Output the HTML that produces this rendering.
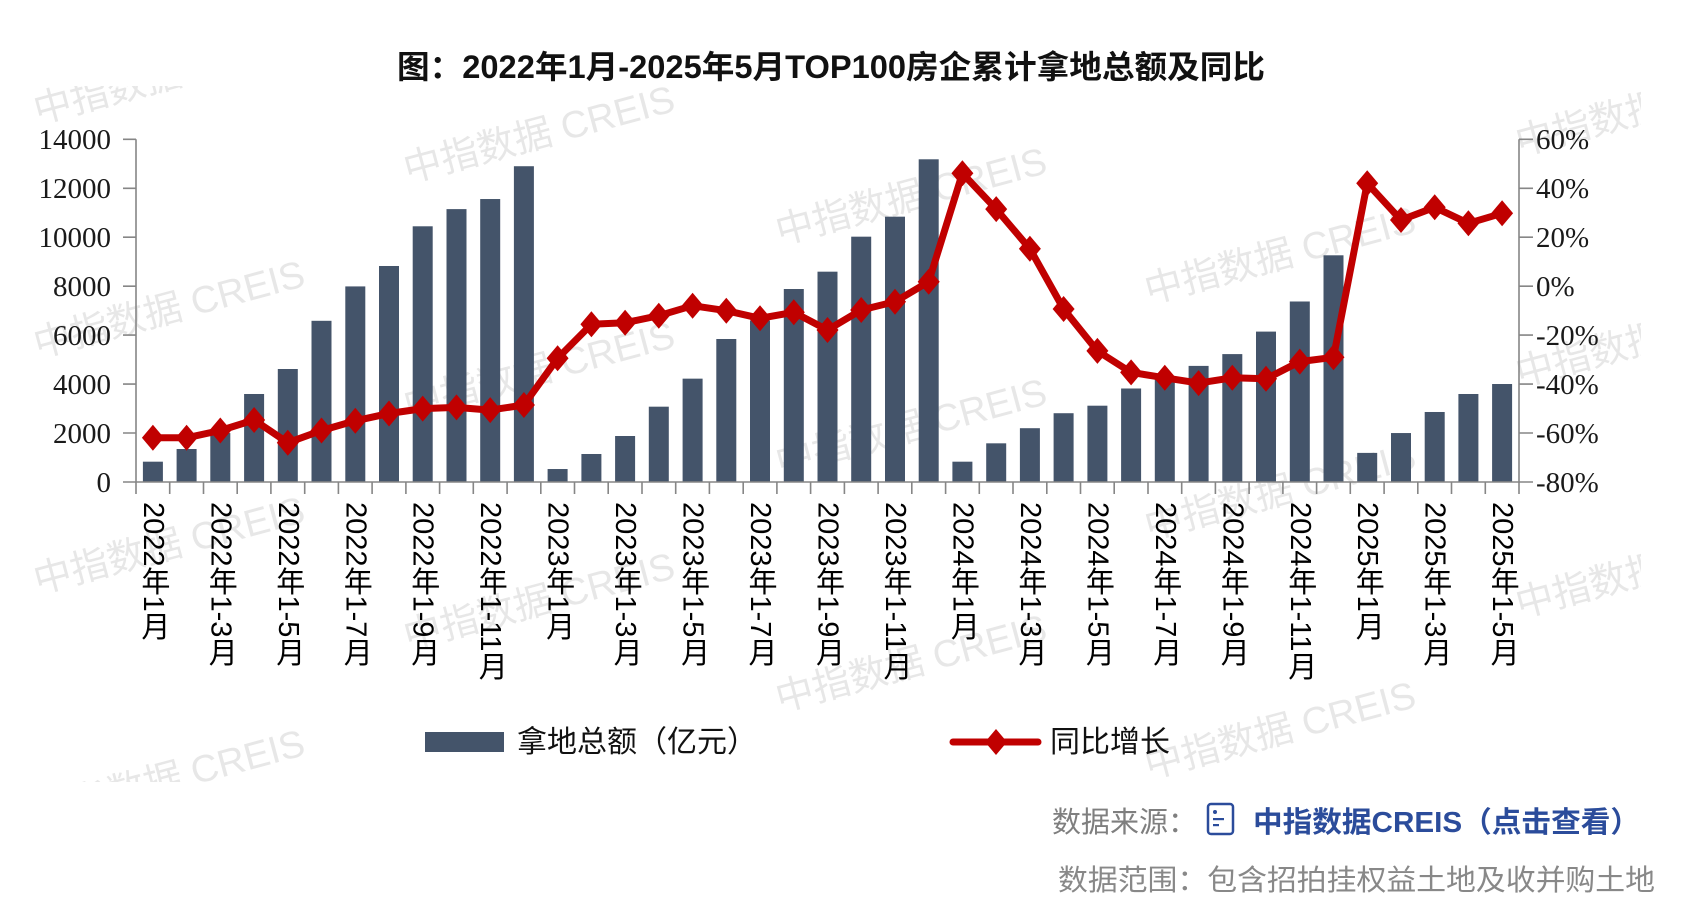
<!DOCTYPE html>
<html>
<head>
<meta charset="utf-8">
<style>
  html,body{margin:0;padding:0;background:#fff;}
  body{width:1684px;height:909px;overflow:hidden;position:relative;}
  svg{position:absolute;left:0;top:0;}
  .xl{position:absolute;top:502px;writing-mode:vertical-rl;text-orientation:mixed;
      font-family:"Liberation Sans","Noto Sans CJK SC",sans-serif;font-size:29px;
      line-height:30px;width:30px;color:#000;white-space:nowrap;}
</style>
</head>
<body>
<svg width="1684" height="909" viewBox="0 0 1684 909" xmlns="http://www.w3.org/2000/svg">
  <defs>
    <clipPath id="wmclip"><rect x="32" y="86" width="1609" height="696"/></clipPath>
    <path id="dm" d="M0,-13 L11,0 L0,13 L-11,0Z" fill="#c00000"/>
  </defs>

  <!-- watermarks -->
  <g clip-path="url(#wmclip)" font-family="'Liberation Sans','Noto Sans CJK SC',sans-serif" font-size="38" fill="#e7e7e7" text-anchor="middle">
    <text x="169" y="88" transform="rotate(-15 169 75)">中指数据 CREIS</text>
    <text x="169" y="322" transform="rotate(-15 169 309)">中指数据 CREIS</text>
    <text x="169" y="558" transform="rotate(-15 169 545)">中指数据 CREIS</text>
    <text x="169" y="791" transform="rotate(-15 169 778)">中指数据 CREIS</text>
    <text x="539" y="147" transform="rotate(-15 539 134)">中指数据 CREIS</text>
    <text x="539" y="383" transform="rotate(-15 539 370)">中指数据 CREIS</text>
    <text x="539" y="614" transform="rotate(-15 539 601)">中指数据 CREIS</text>
    <text x="911" y="209" transform="rotate(-15 911 196)">中指数据 CREIS</text>
    <text x="911" y="440" transform="rotate(-15 911 427)">中指数据 CREIS</text>
    <text x="911" y="676" transform="rotate(-15 911 663)">中指数据 CREIS</text>
    <text x="1280" y="268" transform="rotate(-15 1280 255)">中指数据 CREIS</text>
    <text x="1280" y="504" transform="rotate(-15 1280 491)">中指数据 CREIS</text>
    <text x="1280" y="743" transform="rotate(-15 1280 730)">中指数据 CREIS</text>
    <text x="1651" y="120" transform="rotate(-15 1651 107)">中指数据 CREIS</text>
    <text x="1651" y="351" transform="rotate(-15 1651 338)">中指数据 CREIS</text>
    <text x="1651" y="582" transform="rotate(-15 1651 569)">中指数据 CREIS</text>
  </g>

  <!-- title -->
  <text x="397" y="78" font-family="'Liberation Sans','Noto Sans CJK SC',sans-serif" font-weight="bold" font-size="32" fill="#111" textLength="868" lengthAdjust="spacingAndGlyphs">图：2022年1月-2025年5月TOP100房企累计拿地总额及同比</text>

  <!-- bars -->
  <g transform="translate(0,482) scale(1,-0.024479)" fill="#44546a">
    <rect x="142.9" y="0" width="20" height="830"/>
    <rect x="176.6" y="0" width="20" height="1348"/>
    <rect x="210.3" y="0" width="20" height="2000"/>
    <rect x="244.1" y="0" width="20" height="3595"/>
    <rect x="277.8" y="0" width="20" height="4616"/>
    <rect x="311.5" y="0" width="20" height="6585"/>
    <rect x="345.3" y="0" width="20" height="7990"/>
    <rect x="379.0" y="0" width="20" height="8824"/>
    <rect x="412.7" y="0" width="20" height="10446"/>
    <rect x="446.5" y="0" width="20" height="11148"/>
    <rect x="480.2" y="0" width="20" height="11560"/>
    <rect x="513.9" y="0" width="20" height="12900"/>
    <rect x="547.6" y="0" width="20" height="530"/>
    <rect x="581.4" y="0" width="20" height="1144"/>
    <rect x="615.1" y="0" width="20" height="1879"/>
    <rect x="648.8" y="0" width="20" height="3077"/>
    <rect x="682.6" y="0" width="20" height="4222"/>
    <rect x="716.3" y="0" width="20" height="5842"/>
    <rect x="750.0" y="0" width="20" height="6600"/>
    <rect x="783.8" y="0" width="20" height="7884"/>
    <rect x="817.5" y="0" width="20" height="8592"/>
    <rect x="851.2" y="0" width="20" height="10022"/>
    <rect x="885.0" y="0" width="20" height="10839"/>
    <rect x="918.7" y="0" width="20" height="13183"/>
    <rect x="952.4" y="0" width="20" height="830"/>
    <rect x="986.2" y="0" width="20" height="1580"/>
    <rect x="1019.9" y="0" width="20" height="2198"/>
    <rect x="1053.6" y="0" width="20" height="2810"/>
    <rect x="1087.4" y="0" width="20" height="3117"/>
    <rect x="1121.1" y="0" width="20" height="3820"/>
    <rect x="1154.8" y="0" width="20" height="4200"/>
    <rect x="1188.6" y="0" width="20" height="4743"/>
    <rect x="1222.3" y="0" width="20" height="5225"/>
    <rect x="1256.0" y="0" width="20" height="6144"/>
    <rect x="1289.8" y="0" width="20" height="7374"/>
    <rect x="1323.5" y="0" width="20" height="9261"/>
    <rect x="1357.2" y="0" width="20" height="1189"/>
    <rect x="1391.0" y="0" width="20" height="2000"/>
    <rect x="1424.7" y="0" width="20" height="2860"/>
    <rect x="1458.4" y="0" width="20" height="3595"/>
    <rect x="1492.1" y="0" width="20" height="4003"/>
  </g>

  <!-- axes -->
  <g stroke="#868686" stroke-width="1.6" fill="none">
    <path d="M136,139.3V482H1519V139.3"/>
    <path d="M123,482H136M123,433H136M123,384.1H136M123,335.1H136M123,286.2H136M123,237.2H136M123,188.3H136M123,139.3H136"/>
    <path d="M1519,482H1533M1519,433H1533M1519,384.1H1533M1519,335.1H1533M1519,286.2H1533M1519,237.2H1533M1519,188.3H1533M1519,139.3H1533"/>
    <path d="M136,482v12M169.7,482v12M203.5,482v12M237.2,482v12M270.9,482v12M304.7,482v12M338.4,482v12M372.1,482v12M405.9,482v12M439.6,482v12M473.3,482v12M507.1,482v12M540.8,482v12M574.5,482v12M608.2,482v12M642,482v12M675.7,482v12M709.4,482v12M743.2,482v12M776.9,482v12M810.6,482v12M844.4,482v12M878.1,482v12M911.8,482v12M945.6,482v12M979.3,482v12M1013,482v12M1046.8,482v12M1080.5,482v12M1114.2,482v12M1148,482v12M1181.7,482v12M1215.4,482v12M1249.1,482v12M1282.9,482v12M1316.6,482v12M1350.3,482v12M1384.1,482v12M1417.8,482v12M1451.5,482v12M1485.3,482v12M1519,482v12"/>
  </g>

  <!-- left axis labels -->
  <g font-family="'Liberation Serif',serif" font-size="29" fill="#1a1a1a" text-anchor="end">
    <text x="111" y="492">0</text>
    <text x="111" y="443">2000</text>
    <text x="111" y="394">4000</text>
    <text x="111" y="345">6000</text>
    <text x="111" y="296">8000</text>
    <text x="111" y="247">10000</text>
    <text x="111" y="198">12000</text>
    <text x="111" y="149">14000</text>
  </g>
  <!-- right axis labels -->
  <g font-family="'Liberation Serif',serif" font-size="29" fill="#1a1a1a" text-anchor="start">
    <text x="1536" y="492">-80%</text>
    <text x="1536" y="443">-60%</text>
    <text x="1536" y="394">-40%</text>
    <text x="1536" y="345">-20%</text>
    <text x="1536" y="296">0%</text>
    <text x="1536" y="247">20%</text>
    <text x="1536" y="198">40%</text>
    <text x="1536" y="149">60%</text>
  </g>

  <!-- line series -->
  <polyline fill="none" stroke="#c00000" stroke-width="7" stroke-linejoin="round" stroke-linecap="round"
    points="152.9,437.8 186.6,437.8 220.3,430.5 254.1,420 287.8,442.7 321.5,430.5 355.3,420.8 389,413.5 422.7,408.6 456.5,407.4 490.2,410.1 523.9,405 557.6,358.3 591.4,324.3 625.1,322.7 658.8,315.7 692.6,305.7 726.3,310.7 760,318.3 793.8,312.3 827.5,330 861.2,310 895,301.7 928.7,281.7 962.4,173.3 996.2,209.1 1029.9,248.8 1063.6,309 1097.4,350.9 1131.1,372.4 1164.8,377.8 1198.6,383.1 1232.3,377.8 1266,378.8 1299.8,361.6 1333.5,357.3 1367.2,183.3 1401,220 1434.7,207.3 1468.4,223.3 1502.1,213.3"/>
  <g>
    <use href="#dm" x="152.9" y="437.8"/><use href="#dm" x="186.6" y="437.8"/><use href="#dm" x="220.3" y="430.5"/>
    <use href="#dm" x="254.1" y="420"/><use href="#dm" x="287.8" y="442.7"/><use href="#dm" x="321.5" y="430.5"/>
    <use href="#dm" x="355.3" y="420.8"/><use href="#dm" x="389" y="413.5"/><use href="#dm" x="422.7" y="408.6"/>
    <use href="#dm" x="456.5" y="407.4"/><use href="#dm" x="490.2" y="410.1"/><use href="#dm" x="523.9" y="405"/>
    <use href="#dm" x="557.6" y="358.3"/><use href="#dm" x="591.4" y="324.3"/><use href="#dm" x="625.1" y="322.7"/>
    <use href="#dm" x="658.8" y="315.7"/><use href="#dm" x="692.6" y="305.7"/><use href="#dm" x="726.3" y="310.7"/>
    <use href="#dm" x="760" y="318.3"/><use href="#dm" x="793.8" y="312.3"/><use href="#dm" x="827.5" y="330"/>
    <use href="#dm" x="861.2" y="310"/><use href="#dm" x="895" y="301.7"/><use href="#dm" x="928.7" y="281.7"/>
    <use href="#dm" x="962.4" y="173.3"/><use href="#dm" x="996.2" y="209.1"/><use href="#dm" x="1029.9" y="248.8"/>
    <use href="#dm" x="1063.6" y="309"/><use href="#dm" x="1097.4" y="350.9"/><use href="#dm" x="1131.1" y="372.4"/>
    <use href="#dm" x="1164.8" y="377.8"/><use href="#dm" x="1198.6" y="383.1"/><use href="#dm" x="1232.3" y="377.8"/>
    <use href="#dm" x="1266" y="378.8"/><use href="#dm" x="1299.8" y="361.6"/><use href="#dm" x="1333.5" y="357.3"/>
    <use href="#dm" x="1367.2" y="183.3"/><use href="#dm" x="1401" y="220"/><use href="#dm" x="1434.7" y="207.3"/>
    <use href="#dm" x="1468.4" y="223.3"/><use href="#dm" x="1502.1" y="213.3"/>
  </g>

  <!-- legend -->
  <rect x="425" y="732" width="79" height="20" fill="#44546a"/>
  <text x="517" y="752" font-family="'Noto Sans CJK SC',sans-serif" font-size="30" fill="#111" textLength="240" lengthAdjust="spacingAndGlyphs">拿地总额（亿元）</text>
  <line x1="953" y1="742" x2="1038" y2="742" stroke="#c00000" stroke-width="7" stroke-linecap="round"/>
  <use href="#dm" x="996" y="742"/>
  <text x="1050" y="752" font-family="'Noto Sans CJK SC',sans-serif" font-size="30" fill="#111" textLength="120" lengthAdjust="spacingAndGlyphs">同比增长</text>

  <!-- footer -->
  <text x="1052" y="832" font-family="'Noto Sans CJK SC',sans-serif" font-size="29" fill="#7f7f7f">数据来源：</text>
  <g fill="none" stroke="#2b4c9b" stroke-width="2.5">
    <rect x="1208" y="804" width="25" height="30" rx="3"/>
  </g>
  <g fill="#2b4c9b">
    <circle cx="1215" cy="812" r="2"/>
    <rect x="1213" y="818" width="11" height="2.2"/>
    <rect x="1213" y="824" width="6" height="2.2"/>
  </g>
  <text x="1253" y="832" font-family="'Liberation Sans','Noto Sans CJK SC',sans-serif" font-weight="bold" font-size="29" fill="#2b4c9b" textLength="387" lengthAdjust="spacingAndGlyphs">中指数据CREIS（点击查看）</text>
  <text x="1058" y="890" font-family="'Noto Sans CJK SC',sans-serif" font-size="29" fill="#888" textLength="597" lengthAdjust="spacingAndGlyphs">数据范围：包含招拍挂权益土地及收并购土地</text>
</svg>

<!-- x-axis labels (vertical) -->
<div class="xl" style="left:137.9px">2022年1月</div>
<div class="xl" style="left:205.3px">2022年1-3月</div>
<div class="xl" style="left:272.8px">2022年1-5月</div>
<div class="xl" style="left:340.3px">2022年1-7月</div>
<div class="xl" style="left:407.7px">2022年1-9月</div>
<div class="xl" style="left:475.2px">2022年1-11月</div>
<div class="xl" style="left:542.6px">2023年1月</div>
<div class="xl" style="left:610.1px">2023年1-3月</div>
<div class="xl" style="left:677.6px">2023年1-5月</div>
<div class="xl" style="left:745px">2023年1-7月</div>
<div class="xl" style="left:812.5px">2023年1-9月</div>
<div class="xl" style="left:880px">2023年1-11月</div>
<div class="xl" style="left:947.4px">2024年1月</div>
<div class="xl" style="left:1014.9px">2024年1-3月</div>
<div class="xl" style="left:1082.4px">2024年1-5月</div>
<div class="xl" style="left:1149.8px">2024年1-7月</div>
<div class="xl" style="left:1217.3px">2024年1-9月</div>
<div class="xl" style="left:1284.8px">2024年1-11月</div>
<div class="xl" style="left:1352.2px">2025年1月</div>
<div class="xl" style="left:1419.7px">2025年1-3月</div>
<div class="xl" style="left:1487.1px">2025年1-5月</div>
</body>
</html>
